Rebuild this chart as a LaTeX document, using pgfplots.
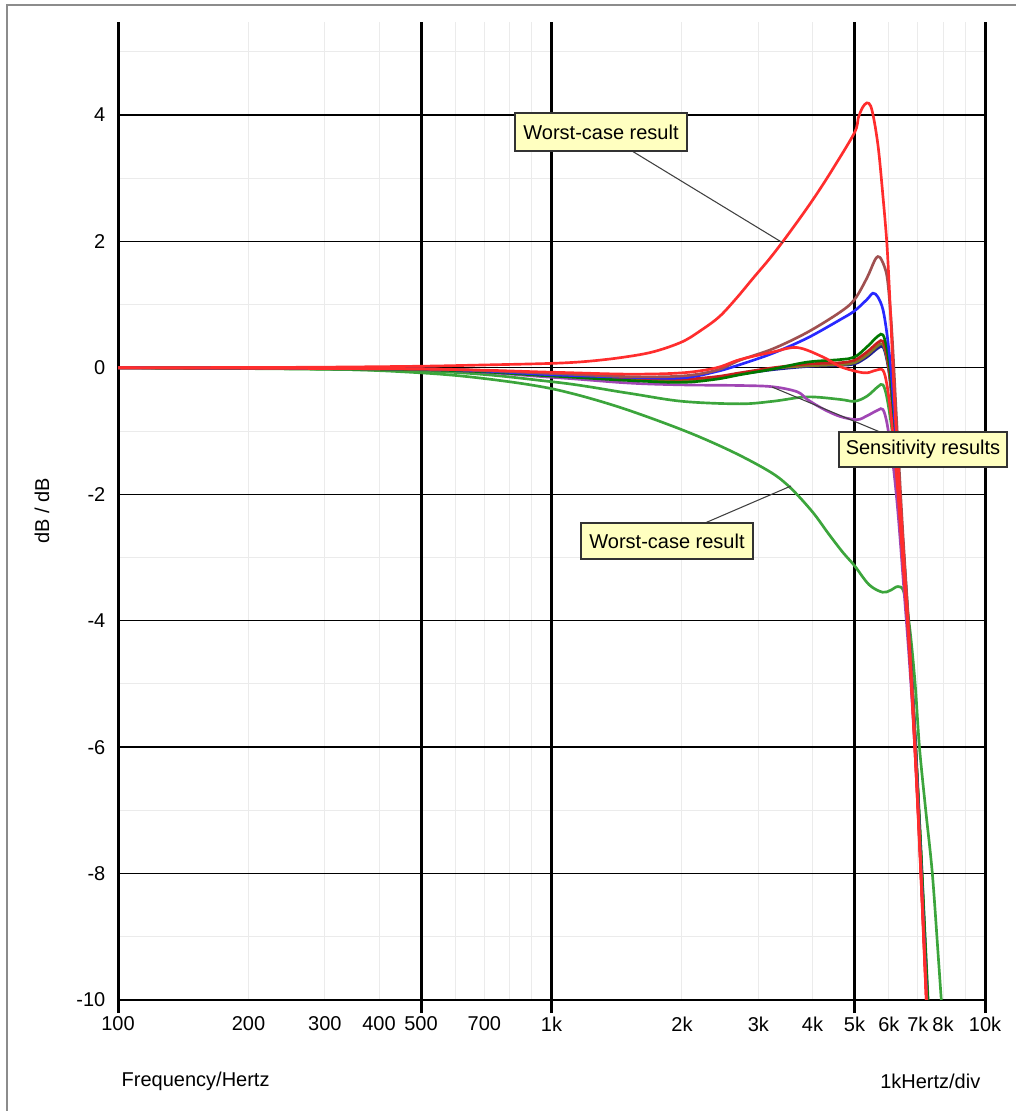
\documentclass[border=0pt]{standalone}
\usepackage{pgfplots}
\pgfplotsset{compat=1.18}
\usepackage{fontspec}
\setmainfont{Liberation Sans}
\definecolor{redc}{RGB}{255,45,45}
\definecolor{greenl}{RGB}{60,165,60}
\definecolor{greend}{RGB}{0,120,0}
\definecolor{bluec}{RGB}{40,40,255}
\definecolor{brownc}{RGB}{160,80,80}
\definecolor{purplec}{RGB}{160,70,180}
\definecolor{olivec}{RGB}{130,120,40}
\definecolor{navyc}{RGB}{30,30,150}
\definecolor{darkred}{RGB}{200,30,30}
\definecolor{noteyellow}{RGB}{255,255,192}
\begin{document}
\begin{tikzpicture}[font=\fontsize{15pt}{18pt}\selectfont]
\begin{scope}[x=0.75pt,y=0.75pt]
\useasboundingbox (0,0) rectangle (1016,1111);
\draw[color=black!45, line width=1.1pt] (7,0) -- (7,1106) -- (1016,1106);
\end{scope}
\begin{axis}[
  at={(88.5pt,83.25pt)}, anchor=south west,
  scale only axis, width=650.25pt, height=733.5pt,
  xmode=log, xmin=100, xmax=10000, ymin=-10, ymax=5.47,
  axis line style={draw=none},
  tick pos=left,
  xtick={100,200,300,400,500,700,1000,2000,3000,4000,5000,6000,7000,8000,10000},
  xticklabels={100,200,300,400,500,700,1k,2k,3k,4k,5k,6k,7k,8k,10k},
  ytick={-10,-8,-6,-4,-2,0,2,4},
  yticklabels={-10,-8,-6,-4,-2,0,2,4},
  minor xtick={200,300,400,600,700,800,900,2000,3000,4000,6000,7000,8000,9000},
  minor ytick={-9,-7,-5,-3,-1,1,3,5},
  major tick length=0pt, minor tick length=0pt,
  xmajorgrids=false, ymajorgrids=true, xminorgrids=true, yminorgrids=true,
  major grid style={black, line width=1pt},
  minor grid style={black!8, line width=0.75pt},
  extra x ticks={100,500,1000,5000,10000},
  extra x tick labels={},
  extra x tick style={xmajorgrids=true, major grid style={black, line width=2.25pt},
     major tick style={black, line width=2.25pt}, major tick length=9.75pt, tick align=outside},
  xticklabel style={yshift=-9pt},
  yticklabel style={xshift=-6pt},
  every axis plot/.append style={line width=2pt, smooth, tension=0.55},
]
% low green worst-case
\addplot[greenl] coordinates {(100,0)(300,-0.02)(500,-0.08)(700,-0.17)(1000,-0.33)(1400,-0.6)(2000,-0.98)(2600,-1.32)(3200,-1.65)(3560,-1.9)(4000,-2.28)(4350,-2.62)(4700,-2.92)(5000,-3.13)(5400,-3.43)(5800,-3.55)(6050,-3.52)(6300,-3.46)(6500,-3.55)(6700,-4.1)(6900,-5.0)(7060,-6.0)(7300,-7.0)(7560,-8.0)(7800,-9.3)(7930,-10.0)(8050,-10.6)};
% mid green
\addplot[greenl] coordinates {(100,0)(500,-0.05)(1000,-0.22)(1500,-0.4)(2000,-0.53)(2720,-0.57)(3240,-0.53)(3890,-0.46)(4630,-0.5)(5000,-0.53)(5340,-0.45)(5660,-0.3)(5816,-0.27)(5950,-0.5)(6130,-1.1)(6300,-2.0)(6500,-3.2)(6700,-4.5)(6900,-5.9)(7100,-7.5)(7300,-9.2)(7450,-10.5)};
% purple
\addplot[purplec] coordinates {(100,0)(500,-0.03)(1000,-0.15)(1500,-0.24)(2000,-0.27)(2720,-0.28)(3240,-0.3)(3690,-0.38)(3890,-0.5)(4230,-0.65)(4630,-0.77)(5070,-0.82)(5340,-0.76)(5660,-0.67)(5816,-0.66)(5950,-0.9)(6130,-1.5)(6300,-2.3)(6500,-3.5)(6700,-4.7)(6900,-6.1)(7100,-7.8)(7300,-9.6)(7420,-10.6)};
% cluster: navy
\addplot[navyc] coordinates {(100,0)(500,-0.02)(1000,-0.1)(1500,-0.16)(2000,-0.2)(2400,-0.16)(2720,-0.1)(3240,-0.03)(3890,0.02)(4630,0.04)(5000,0.06)(5340,0.17)(5660,0.31)(5816,0.33)(5940,0.12)(6050,-0.25)(6150,-0.85)(6300,-1.85)(6500,-3.1)(6700,-4.4)(6900,-5.9)(7100,-7.6)(7300,-9.4)(7430,-10.6)};
% cluster: olive
\addplot[olivec] coordinates {(100,0)(500,-0.02)(1000,-0.1)(1500,-0.17)(2000,-0.2)(2400,-0.15)(2720,-0.09)(3240,-0.01)(3890,0.03)(4630,0.05)(5000,0.08)(5340,0.2)(5660,0.35)(5816,0.37)(5940,0.15)(6050,-0.22)(6150,-0.8)(6300,-1.8)(6500,-3.1)(6700,-4.4)(6900,-5.9)(7100,-7.6)(7300,-9.4)(7430,-10.6)};
% cluster: red3
\addplot[darkred] coordinates {(100,0)(500,-0.02)(1000,-0.1)(1500,-0.16)(2000,-0.18)(2400,-0.14)(2720,-0.08)(3240,0.0)(3890,0.06)(4630,0.08)(5000,0.12)(5340,0.25)(5660,0.4)(5816,0.42)(5940,0.2)(6050,-0.2)(6150,-0.8)(6300,-1.8)(6500,-3.1)(6700,-4.5)(6900,-6.0)(7100,-7.8)(7300,-9.7)(7400,-10.6)};
% cluster: dark green
\addplot[greend] coordinates {(100,0)(500,-0.03)(1000,-0.13)(1500,-0.2)(2000,-0.23)(2400,-0.18)(2720,-0.11)(3240,-0.02)(3890,0.09)(4630,0.13)(5000,0.17)(5340,0.33)(5660,0.5)(5816,0.52)(5940,0.3)(6050,-0.1)(6150,-0.7)(6300,-1.7)(6500,-3.0)(6700,-4.3)(6900,-5.8)(7100,-7.5)(7300,-9.3)(7450,-10.6)};
% blue
\addplot[bluec] coordinates {(100,0)(500,-0.02)(1000,-0.11)(1500,-0.15)(2000,-0.16)(2400,-0.06)(2720,0.05)(3240,0.23)(3890,0.47)(4630,0.76)(5000,0.9)(5340,1.08)(5515,1.18)(5660,1.12)(5816,0.92)(5950,0.5)(6080,-0.1)(6200,-0.9)(6400,-2.3)(6700,-4.4)(6900,-5.9)(7100,-7.7)(7300,-9.6)(7400,-10.5)};
% brown
\addplot[brownc] coordinates {(100,0)(500,-0.02)(1000,-0.09)(1500,-0.14)(2000,-0.13)(2400,-0.04)(2720,0.12)(3240,0.3)(3890,0.56)(4630,0.88)(5000,1.08)(5340,1.42)(5550,1.68)(5660,1.76)(5780,1.7)(5940,1.45)(6050,0.9)(6130,0.3)(6250,-0.8)(6450,-2.5)(6700,-4.3)(6900,-5.9)(7100,-7.7)(7300,-9.6)(7400,-10.5)};
% red with bump
\addplot[redc] coordinates {(100,0)(500,-0.02)(1000,-0.07)(1500,-0.1)(2000,-0.08)(2400,0.0)(2720,0.13)(3240,0.25)(3690,0.32)(4230,0.17)(4630,0.02)(5070,-0.06)(5340,-0.08)(5600,-0.04)(5816,-0.04)(5950,-0.3)(6100,-0.9)(6300,-2.0)(6500,-3.3)(6700,-4.5)(6900,-6.1)(7100,-7.9)(7300,-9.8)(7400,-10.6)};
% red worst-case
\addplot[redc] coordinates {(100,0)(200,0.005)(300,0.01)(500,0.025)(700,0.045)(1000,0.07)(1200,0.1)(1440,0.16)(1710,0.25)(2000,0.41)(2220,0.6)(2440,0.81)(2670,1.1)(2920,1.42)(3180,1.72)(3420,2.0)(3790,2.42)(4100,2.76)(4450,3.14)(5000,3.72)(5100,3.95)(5220,4.12)(5340,4.19)(5450,4.14)(5560,3.88)(5680,3.45)(5800,2.8)(5940,1.95)(6050,0.9)(6150,-0.2)(6300,-1.5)(6480,-2.9)(6650,-4.1)(6850,-5.7)(7050,-7.4)(7250,-9.3)(7350,-10.3)};
\end{axis}
\begin{scope}[x=0.75pt,y=0.75pt]
% annotations
\draw[black!75, line width=0.8pt] (632,960) -- (783,868);
\draw[black!75, line width=0.8pt] (705,588) -- (791,625);
\draw[black!75, line width=0.8pt] (772,724) -- (880,679);
\draw[black!80, line width=0.9pt, fill=noteyellow] (515,998) rectangle (687,960);
\node at (601,979) {Worst-case result};
\draw[black!80, line width=0.9pt, fill=noteyellow] (581,588) rectangle (753,552);
\node at (667,570) {Worst-case result};
\draw[black!80, line width=0.9pt, fill=noteyellow] (839,679) rectangle (1007,644);
\node at (923,661.5) {Sensitivity results};
% axis texts
\node[anchor=west] at (117,30) {Frequency/Hertz};
\node[anchor=east] at (985,30) {1kHertz/div};
\node[rotate=90] at (42,600) {dB / dB};
\end{scope}
\end{tikzpicture}
\end{document}
